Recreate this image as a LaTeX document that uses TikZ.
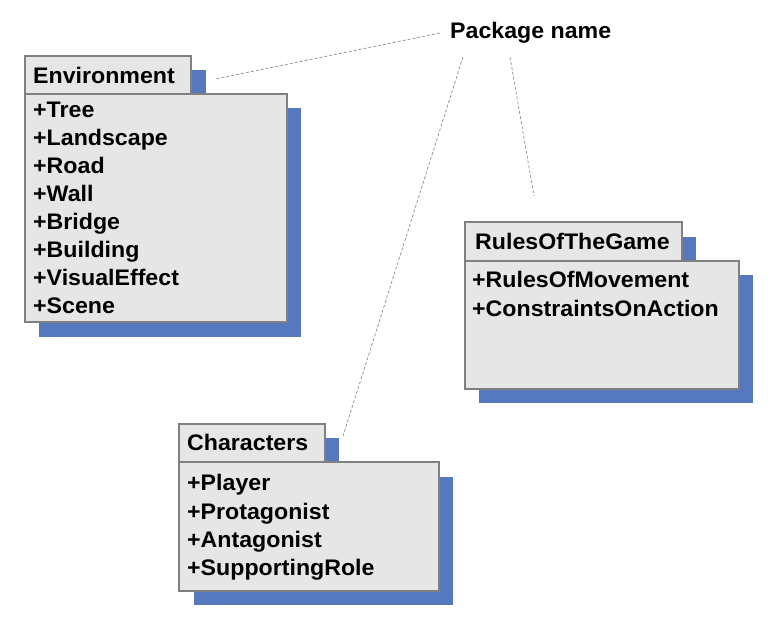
\documentclass[tikz,border=0pt]{standalone}
\usepackage{fontspec}
\setmainfont{Liberation Sans}[FakeStretch=1.03]
\definecolor{shblue}{RGB}{85,120,190}
\definecolor{boxgray}{RGB}{230,230,230}
\definecolor{edgegray}{RGB}{128,128,128}
\definecolor{leadgray}{RGB}{140,140,140}
\tikzset{
  shadowfill/.style={fill=shblue, draw=none},
  pkgbox/.style={fill=boxgray, draw=edgegray, line width=1.1pt},
  lbl/.style={anchor=base west, inner sep=0pt, font=\bfseries\fontsize{22.5}{27}\selectfont},
  leader/.style={draw=leadgray, line width=0.7pt, dash pattern=on 3pt off 2pt},
}
\begin{document}
\begin{tikzpicture}[x=1pt,y=-1pt]
\useasboundingbox (0,0) rectangle (780,632);
% ---------------- Environment
\fill[shadowfill] (39,108) rectangle (301,337);
\fill[shadowfill] (39,70) rectangle (206,108);
\draw[pkgbox] (25,56) rectangle (191,94);
\draw[pkgbox] (25,94) rectangle (287,322);
\node[lbl] (envt) at (33,83) {Environment};
\node[lbl] (env1) at (33,117) {+Tree};
\node[lbl] (env2) at (33,145) {+Landscape};
\node[lbl] (env3) at (33,173.5) {+Road};
\node[lbl] (env4) at (33,201.5) {+Wall};
\node[lbl] (env5) at (33,229.5) {+Bridge};
\node[lbl] (env6) at (33,257.5) {+Building};
\node[lbl] (env7) at (33,285.5) {+VisualEffect};
\node[lbl] (env8) at (33,313.5) {+Scene};
% ---------------- RulesOfTheGame
\fill[shadowfill] (479,275) rectangle (753,403);
\fill[shadowfill] (479,237) rectangle (696,275);
\draw[pkgbox] (465,222) rectangle (682,261);
\draw[pkgbox] (465,261) rectangle (739,389);
\node[lbl] (rult) at (475,249) {RulesOfTheGame};
\node[lbl] (rul1) at (472,287.5) {+RulesOfMovement};
\node[lbl] (rul2) at (472,316) {+ConstraintsOnAction};
% ---------------- Characters
\fill[shadowfill] (194,477) rectangle (453,605);
\fill[shadowfill] (194,438) rectangle (339,477);
\draw[pkgbox] (179,424) rectangle (325,462);
\draw[pkgbox] (179,462) rectangle (439,591);
\node[lbl] (chrt) at (187,450.5) {Characters};
\node[lbl] (chr1) at (187,490.5) {+Player};
\node[lbl] (chr2) at (187,519) {+Protagonist};
\node[lbl] (chr3) at (187,547) {+Antagonist};
\node[lbl] (chr4) at (187,575.5) {+SupportingRole};
% ---------------- Package name label and leaders
\node[lbl] (pkg) at (450,38) {Package name};
\coordinate (la) at (440,33);
\coordinate (lb) at (463,57);
\coordinate (lc) at (510,57);
\coordinate (ea) at (215,79);
\coordinate (eb) at (343,436);
\coordinate (ec) at (534,196);
\draw[leader] (la) -- (ea);
\draw[leader] (lb) -- (eb);
\draw[leader] (lc) -- (ec);
\end{tikzpicture}
\end{document}
